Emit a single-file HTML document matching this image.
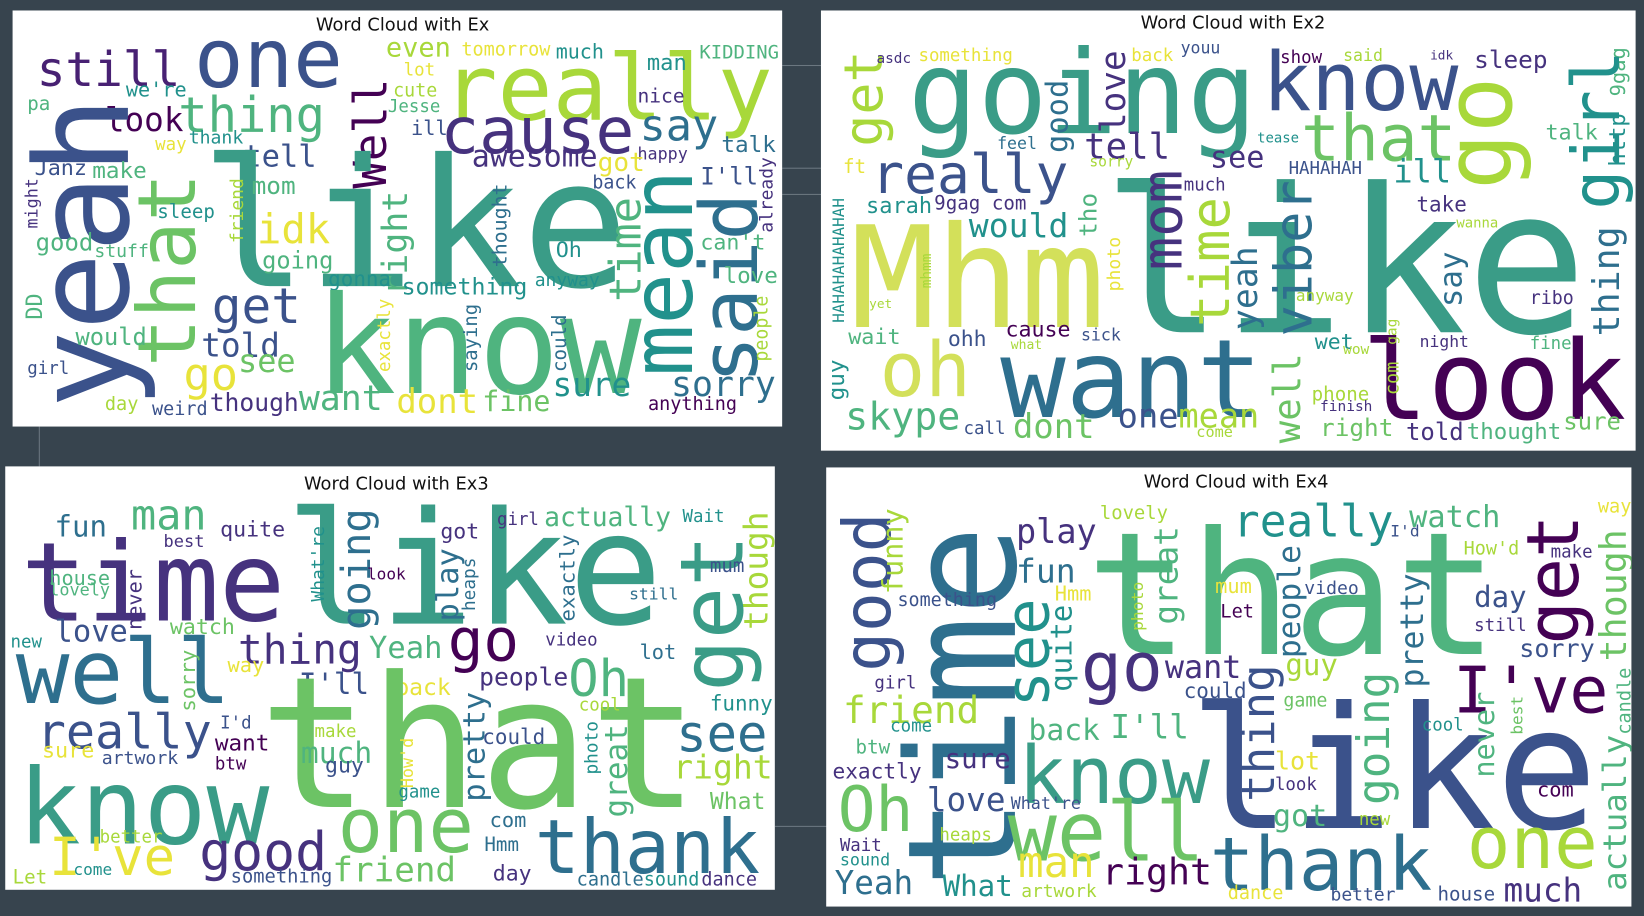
<!DOCTYPE html>
<html><head><meta charset="utf-8">
<style>
html,body{margin:0;padding:0;background:#37444e;}
#stage{position:absolute;left:0;top:0;width:1568px;height:874px;transform:scale(1.04847,1.04805);transform-origin:0 0;}
.panel{position:absolute;background:#fff;overflow:hidden;}
.title{position:absolute;font-family:"DejaVu Sans","Liberation Sans",sans-serif;font-size:17px;color:#111;white-space:nowrap;transform:translateX(-50%);line-height:1;}
.w{position:absolute;font-family:"DejaVu Sans Mono","Liberation Mono",monospace;line-height:1;white-space:nowrap;}
.ln{position:absolute;background:#6b7780;}
</style></head>
<body>
<div id="stage">
  <div class="ln" style="left:746px;top:62px;width:37px;height:1px"></div>
  <div class="ln" style="left:746px;top:160px;width:37px;height:1px"></div>
  <div class="ln" style="left:746px;top:185px;width:37px;height:1px"></div>
  <div class="ln" style="left:37px;top:407px;width:1px;height:38px"></div>
  <div class="ln" style="left:739px;top:788px;width:50px;height:1px"></div>
  <div class="panel" id="p1" style="left:12px;top:10px;width:734px;height:397px"></div>
  <div class="panel" id="p2" style="left:783px;top:10px;width:777px;height:420px"></div>
  <div class="panel" id="p3" style="left:5px;top:445px;width:734px;height:404px"></div>
  <div class="panel" id="p4" style="left:788px;top:446px;width:768px;height:419px"></div>
</div>
<script>
// word data: [text, x, y, length, vertical, colorKey]
const C={P:"#440154",Q:"#482173",I:"#46327e",B:"#3b528b",S:"#2e6f8e",T:"#21918c",G:"#3a9c87",K:"#4fb47f",L:"#6cc365",Y:"#a8d83a",F:"#e8e33a",M:"#d3e05a"};
const titles=["Word Cloud with Ex","Word Cloud with Ex2","Word Cloud with Ex3","Word Cloud with Ex4"];
const titlePos=[[384,16],[1176,14],[378,454],[1179,452]];
const words1=[
["still",35,48,137,0,"Q"],["one",185,41,142,0,"B"],["really",422,48,315,0,"Y"],["even",368,42,62,0,"Y"],
["tomorrow",440,42,85,0,"F"],["much",530,42,46,0,"T"],["KIDDING",667,44,76,0,"K"],["man",617,55,38,0,"T"],
["lot",385,60,30,0,"F"],["cute",375,80,42,0,"Y"],["Jesse",370,95,50,0,"K"],["nice",608,86,45,0,"I"],
["we're",120,78,58,0,"T"],["pa",26,96,22,0,"K"],["look",100,103,75,0,"P"],["thing",170,91,140,0,"K"],
["Well",337,75,105,1,"P"],["ill",392,115,35,0,"B"],["cause",420,113,185,0,"I"],["say",610,111,75,0,"S"],
["thank",180,125,52,0,"T"],["way",148,135,30,0,"F"],["talk",688,130,52,0,"S"],["tell",232,137,70,0,"B"],
["happy",608,140,48,0,"I"],["yeah",30,92,298,1,"B"],["Janz",33,152,50,0,"B"],["make",88,155,52,0,"K"],
["awesome",450,145,120,0,"I"],["got",570,145,45,0,"F"],["like",191,146,409,0,"G"],["that",130,165,185,1,"L"],
["I'll",668,160,55,0,"B"],["already",725,150,72,1,"I"],["back",565,168,42,0,"B"],["mean",617,162,197,1,"T"],
["said",665,184,182,1,"S"],["time",580,188,100,1,"K"],["might",24,170,48,1,"I"],["mom",240,173,42,0,"K"],
["friend",220,170,62,1,"Y"],["idk",245,204,70,0,"F"],["right",363,182,100,1,"K"],["thought",470,175,80,1,"S"],
["sleep",150,196,55,0,"T"],["can't",668,223,62,0,"K"],["good",34,223,55,0,"K"],["stuff",90,233,52,0,"K"],
["Oh",530,230,25,0,"T"],["going",250,240,68,0,"K"],["love",690,255,52,0,"K"],["gonna",313,263,60,0,"T"],
["something",383,265,120,0,"T"],["anyway",510,265,62,0,"T"],["get",202,273,85,0,"B"],["know",300,277,312,0,"K"],
["DD",25,280,25,1,"K"],["exactly",360,285,70,1,"F"],["saying",443,290,65,1,"S"],["could",528,300,55,1,"S"],
["people",720,282,63,1,"Y"],["would",72,313,68,0,"K"],["told",192,318,75,0,"B"],["go",175,350,52,0,"F"],
["see",227,340,55,0,"L"],["girl",26,345,40,0,"B"],["though",200,375,85,0,"I"],["want",285,366,80,0,"K"],
["dont",378,370,78,0,"F"],["fine",460,372,65,0,"L"],["sure",527,362,75,0,"T"],["sorry",640,360,100,0,"S"],
["anything",618,380,85,0,"P"],["day",100,380,32,0,"Y"],["weird",145,385,53,0,"B"]
];
const words2=[
["get",804,48,92,1,"Y"],["asdc",836,51,33,0,"I"],["something",876,46,90,0,"F"],["going",866,45,333,0,"G"],
["back",1079,46,40,0,"F"],["youu",1126,43,38,0,"B"],["show",1221,48,40,0,"P"],["said",1281,46,38,0,"Y"],
["idk",1364,48,22,0,"I"],["sleep",1406,48,70,0,"I"],["9gag",1536,45,47,1,"K"],["http",1534,108,51,1,"T"],
["know",1204,48,187,0,"B"],["go",1394,73,108,1,"Y"],["girl",1496,48,152,1,"T"],["love",1049,48,79,1,"I"],
["good",996,76,70,1,"S"],["that",1241,107,148,0,"L"],["talk",1474,118,50,0,"K"],["tell",1034,126,82,0,"I"],
["feel",951,130,38,0,"S"],["tease",1199,127,40,0,"T"],["really",831,145,188,0,"B"],["see",1154,145,52,0,"I"],
["ft",804,153,22,0,"F"],["sorry",1039,153,42,0,"Y"],["HAHAHAH",1229,154,70,0,"B"],["ill",1329,153,55,0,"T"],
["much",1129,170,40,0,"I"],["like",1051,173,463,0,"G"],["sarah",826,188,63,0,"T"],["9gag com",891,188,88,0,"I"],
["mom",1099,162,96,1,"I"],["take",1351,188,48,0,"I"],["viber",1214,172,149,1,"S"],["time",1134,188,124,1,"Y"],
["tho",1029,184,42,1,"K"],["would",924,204,95,0,"T"],["wanna",1389,211,40,0,"Y"],["thing",1519,216,105,1,"S"],
["HAHAHAHAHAHAH",794,189,119,1,"T"],["Mhm",811,211,243,0,"M"],["photo",1056,226,52,1,"F"],["mhmm",879,242,33,1,"Y"],
["yeah",1174,235,80,1,"S"],["say",1379,240,53,1,"S"],["yet",829,285,22,0,"Y"],["anyway",1236,280,55,0,"Y"],
["ribo",1459,278,42,0,"I"],["wait",809,313,50,0,"K"],["ohh",904,315,37,0,"B"],["cause",959,310,62,0,"P"],
["sick",1031,313,38,0,"B"],["what",964,324,30,0,"Y"],["wet",1254,318,37,0,"T"],["night",1354,320,47,0,"I"],
["fine",1459,321,40,0,"K"],["wow",1281,332,25,0,"Y"],["oh",839,324,87,0,"M"],["want",954,321,250,0,"S"],
["look",1299,321,252,0,"P"],["well",1214,337,86,1,"L"],["guy",794,343,39,1,"T"],["gag",1326,304,25,1,"Y"],
["com",1326,345,32,1,"Y"],["phone",1251,370,55,0,"Y"],["finish",1259,383,50,0,"I"],["skype",806,383,110,0,"K"],
["call",919,402,40,0,"B"],["dont",966,394,78,0,"L"],["one",1066,391,58,0,"B"],["mean",1124,391,77,0,"Y"],
["come",1141,410,35,0,"Y"],["right",1259,399,70,0,"L"],["told",1341,404,55,0,"I"],["thought",1399,404,90,0,"K"],
["sure",1491,399,55,0,"L"]
];
const words3=[
["time",20,513,252,0,"I"],["like",272,483,360,0,"G"],["fun",52,491,50,0,"S"],["man",125,485,72,0,"K"],
["quite",210,497,62,0,"I"],["best",156,510,39,0,"I"],["going",325,485,116,1,"S"],["What're",297,502,72,1,"T"],
["got",420,499,37,0,"I"],["girl",474,489,40,0,"I"],["actually",519,483,121,0,"K"],["Wait",651,486,40,0,"T"],
["though",710,488,113,1,"Y"],["get",645,510,150,1,"G"],["house",47,544,58,0,"K"],["lovely",47,556,58,0,"K"],
["never",125,543,58,1,"I"],["look",350,542,37,0,"P"],["play",415,523,70,1,"S"],["heaps",440,532,51,1,"S"],
["exactly",534,510,83,1,"S"],["mum",677,537,33,0,"B"],["still",600,561,47,0,"S"],["love",52,590,70,0,"B"],
["watch",162,590,62,0,"L"],["new",10,610,30,0,"T"],["well",15,607,205,0,"S"],["thing",227,604,118,0,"I"],
["Yeah",352,606,70,0,"K"],["go",427,601,68,0,"P"],["video",520,604,50,0,"I"],["lot",610,615,35,0,"S"],
["sorry",176,620,59,1,"L"],["way",217,631,35,0,"F"],["I'll",285,641,67,0,"B"],["back",377,648,53,0,"F"],
["people",457,637,85,0,"I"],["Oh",542,628,58,0,"K"],["that",247,639,420,0,"L"],["really",35,679,167,0,"B"],
["I'd",210,683,30,0,"B"],["make",300,691,40,0,"Y"],["pretty",440,660,105,1,"S"],["cool",552,666,40,0,"Y"],
["funny",677,664,60,0,"T"],["see",645,691,87,0,"S"],["could",460,696,60,0,"B"],["want",205,701,52,0,"P"],
["photo",557,688,51,1,"T"],["great",577,691,89,1,"K"],["much",287,707,68,0,"K"],["How'd",382,704,48,1,"F"],
["right",642,721,95,0,"Y"],["sure",40,712,50,0,"F"],["artwork",97,717,73,0,"B"],["btw",205,722,30,0,"P"],
["guy",310,726,37,0,"B"],["know",17,730,240,0,"G"],["game",380,753,40,0,"T"],["What",677,757,53,0,"L"],
["one",322,774,130,0,"L"],["com",467,779,35,0,"S"],["thank",510,779,215,0,"S"],["better",95,792,60,0,"Y"],
["I've",47,798,120,0,"F"],["good",190,792,122,0,"I"],["Hmm",462,800,33,0,"S"],["day",470,825,37,0,"I"],
["Let",12,831,33,0,"Y"],["come",70,828,37,0,"T"],["something",220,830,97,0,"B"],["friend",317,817,118,0,"L"],
["candle",550,834,64,0,"S"],["sound",614,834,53,0,"T"],["dance",669,834,53,0,"I"]
];
const words4=[
["good",801,489,152,1,"B"],["funny",841,485,82,1,"Y"],["time",859,501,346,1,"S"],["play",969,494,77,0,"I"],
["lovely",1049,483,65,0,"Y"],["really",1176,481,153,0,"T"],["watch",1344,481,87,0,"K"],["I'd",1326,501,28,0,"B"],
["way",1524,481,32,0,"F"],["get",1454,491,124,1,"P"],["How'd",1396,518,53,0,"Y"],["make",1479,520,40,0,"I"],
["though",1526,505,126,1,"L"],["fun",969,534,57,0,"S"],["that",1036,501,393,0,"K"],["great",1101,502,94,1,"K"],
["people",1219,520,108,1,"S"],["pretty",1336,547,109,1,"S"],["Hmm",1006,559,35,0,"F"],["mum",1159,556,35,0,"F"],
["video",1244,555,52,0,"B"],["photo",1079,555,47,1,"Y"],["something",856,567,95,0,"B"],["see",969,571,104,1,"T"],
["quite",1001,577,83,1,"T"],["day",1406,558,50,0,"B"],["Let",1164,578,32,0,"P"],["still",1406,590,50,0,"I"],
["sorry",1449,615,72,0,"B"],["go",1031,625,78,0,"I"],["want",1111,626,73,0,"I"],["thing",1184,634,131,1,"B"],
["guy",1226,629,50,0,"Y"],["going",1294,641,127,1,"K"],["I've",1386,634,148,0,"P"],["girl",834,645,40,0,"I"],
["could",1129,652,60,0,"B"],["game",1224,666,42,0,"L"],["friend",804,664,130,0,"Y"],["like",1134,669,390,0,"B"],
["back",981,685,68,0,"K"],["I'll",1059,682,75,0,"K"],["cool",1356,685,40,0,"T"],["never",1411,660,82,1,"K"],
["best",1441,664,37,1,"L"],["candle",1544,637,64,1,"K"],["come",849,690,40,0,"T"],["btw",816,707,33,0,"K"],
["know",971,709,183,0,"G"],["exactly",794,728,85,0,"I"],["sure",901,720,63,0,"I"],["lot",1216,717,43,0,"F"],
["look",1216,742,40,0,"I"],["actually",1529,701,149,1,"K"],["love",884,752,75,0,"B"],["What're",964,760,67,0,"B"],
["Oh",799,749,72,0,"L"],["well",961,763,188,0,"L"],["got",1214,766,52,0,"K"],["com",1466,750,35,0,"P"],
["new",1296,779,30,0,"Y"],["heaps",896,790,50,0,"Y"],["Wait",801,800,40,0,"I"],["sound",801,814,48,0,"T"],
["thank",1154,796,212,0,"S"],["one",1399,792,125,0,"Y"],["man",971,815,73,0,"F"],["right",1051,819,105,0,"P"],
["Yeah",796,831,75,0,"S"],["What",899,834,67,0,"T"],["artwork",974,844,72,0,"Y"],["dance",1171,847,53,0,"F"],
["better",1269,847,62,0,"B"],["house",1371,847,55,0,"B"],["much",1434,838,75,0,"I"]
];
const panelData=[words1,words2,words3,words4];
const panelIds=["p1","p2","p3","p4"];

function hasAsc(t){return /[bdfhiklt'A-Z0-9]/.test(t);}
panelData.forEach(function(words,pi){
  const panel=document.getElementById(panelIds[pi]);
  const px=parseFloat(panel.style.left), py=parseFloat(panel.style.top);
  const tt=document.createElement('div');
  tt.className='title';
  tt.textContent=titles[pi];
  tt.style.left=(titlePos[pi][0]-px)+'px';
  tt.style.top=(titlePos[pi][1]-py)+'px';
  
  
  panel.appendChild(tt);
  words.forEach(function(w){
    const text=w[0], x=w[1], y=w[2], len=w[3], vert=w[4];
    const fs=len/(0.602*text.length);
    const off=(hasAsc(text)?0.086:0.30)*fs;
    const el=document.createElement('span');
    el.className='w';
    el.textContent=text;
    el.style.fontSize=fs.toFixed(2)+'px';
    el.style.color=C[w[5]];
    if(vert){
      el.style.left=(x-px-off)+'px';
      el.style.top=(y-py+len)+'px';
      el.style.transformOrigin='0 0';
      el.style.transform='rotate(-90deg)';
    }else{
      el.style.left=(x-px)+'px';
      el.style.top=(y-py-off)+'px';
    }
    
    
    panel.appendChild(el);
  });
});
</script>
</body></html>
